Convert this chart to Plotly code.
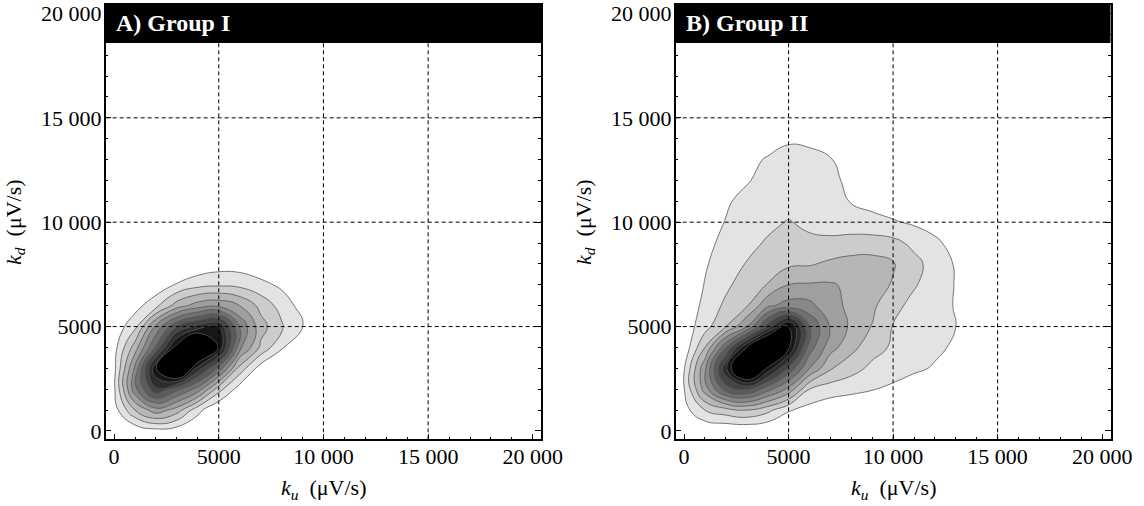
import plotly.graph_objects as go

# ---------------- data ----------------
# Estimated smoothed density (in contour-band units)
grid_x1 = [-1000, 0, 1000, 2000, 3000, 4000, 5000, 6000, 7000, 8000, 9000, 10000]
grid_y1 = [-1000, 0, 1000, 2000, 3000, 4000, 5000, 6000, 7000, 8000, 9000]
density_group1 = [
    [0, 0,   0,   0,    0,    0,    0,    0,   0,   0,    0,    0],
    [0, 0,   0.2, 0.6,  0.4,  0.1,  0,    0,   0,   0,    0,    0],
    [0, 0.5, 3.0, 4.6,  3.5,  1.3,  0,    0,   0,   0,    0,    0],
    [0, 0.8, 5.7, 8.8,  7.3,  5.6,  2.4,  0.5, 0,   0,    0,    0],
    [0, 0.7, 5.2, 10.9, 14.5, 9.6,  6.7,  2.6, 0.5, 0,    0,    0],
    [0, 0.6, 3.5, 7.2,  11.6, 14.5, 10.9, 5.3, 2.8, 1.1,  0.2,  0],
    [0, 0.3, 1.7, 5.2,  8.0,  9.4,  10.0, 5.9, 3.4, 2.15, 1.08, 0],
    [0, 0.1, 0.6, 1.7,  3.5,  4.5,  4.76, 4.0, 2.7, 1.6,  0.6,  0],
    [0, 0,   0,   0.3,  1.1,  1.66, 1.83, 1.72, 1.3, 0.8, 0.2,  0],
    [0, 0,   0,   0,    0,    0.2,  0.5,  0.5, 0.2, 0,    0,    0],
    [0, 0,   0,   0,    0,    0,    0,    0,   0,   0,    0,    0],
]

grid_x2 = [-1000, 0, 1000, 2000, 3000, 4000, 5000, 6000, 7000, 8000,
           9000, 10000, 11000, 12000, 13000, 14000]
grid_y2 = [-1000, 0, 1000, 2000, 3000, 4000, 5000, 6000, 7000, 8000,
           9000, 10000, 11000, 12000, 13000, 14000, 15000]
density_group2 = [
    [0, 0,    0,   0,    0,    0,    0,    0,   0,    0,    0,    0,    0,    0,    0,    0],
    [0, 0,    0.1, 0.1,  0.1,  0,    0,    0,   0,    0,    0,    0,    0,    0,    0,    0],
    [0, 0.6,  2.0, 2.6,  3.0,  2.3,  1.1,  0.6, 0.3,  0.1,  0,    0,    0,    0,    0,    0],
    [0, 0.95, 4.5, 7.5,  8.1,  6.4,  4.7,  2.0, 1.5,  1.3,  1.05, 0.8,  0.4,  0.1,  0,    0],
    [0, 0.9,  4.8, 9.8,  14.5, 10.8, 7.8,  5.0, 3.1,  2.4,  1.75, 1.45, 1.2,  0.9,  0.2,  0],
    [0, 0.3,  3.0, 6.9,  11.0, 14.5, 11.2, 6.5, 4.4,  3.3,  2.4,  1.85, 1.5,  1.2,  0.85, 0],
    [0, 0.4,  1.6, 3.0,  5.0,  8.5,  11.4, 7.0, 4.9,  3.8,  2.95, 1.95, 1.65, 1.35, 1.0,  0.2],
    [0, 0.05, 1.35, 2.2, 2.9,  4.8,  5.4,  5.3, 4.3,  3.8,  3.2,  2.3,  1.7,  1.3,  0.95, 0.2],
    [0, 0.2,  1.05, 1.8, 2.5,  3.05, 4.0,  4.1, 4.1,  3.8,  3.5,  2.9,  2.1,  1.5,  0.95, 0.2],
    [0, 0.2,  0.9, 1.5,  2.05, 2.4,  2.8,  2.9, 3.2,  3.4,  3.4,  3.1,  2.3,  1.6,  0.9,  0.2],
    [0, 0.1,  0.7, 1.3,  1.75, 2.1,  2.45, 2.2, 2.25, 2.4,  2.45, 2.3,  1.75, 1.25, 0.55, 0],
    [0, 0,    0.5, 1.05, 1.5,  1.8,  2.05, 1.8, 1.55, 1.45, 1.3,  1.1,  0.85, 0.5,  0.1,  0],
    [0, 0,    0.2, 0.85, 1.35, 1.6,  1.7,  1.6, 1.35, 0.95, 0.7,  0.45, 0.1,  0,    0,    0],
    [0, 0,    0.1, 0.6,  0.9,  1.4,  1.45, 1.35, 1.15, 0.85, 0.4, 0.1,  0,    0,    0,    0],
    [0, 0,    0,   0.2,  0.7,  1.1,  1.25, 1.2, 1.05, 0.7,  0.2,  0,    0,    0,    0,    0],
    [0, 0,    0,   0,    0,    0.5,  0.9,  0.85, 0.3, 0,    0,    0,    0,    0,    0,    0],
    [0, 0,    0,   0,    0,    0,    0,    0,   0,    0,    0,    0,    0,    0,    0,    0],
]

panel_titles = ["A) Group I", "B) Group II"]
tick_vals = [0, 5000, 10000, 15000, 20000]
tick_text = ["0", "5000", "10 000", "15 000", "20 000"]
grid_vals = [5000, 10000, 15000]

# ---------------- style ----------------
FONT = "Liberation Serif"
W, H = 1144, 506
n_levels = 11
grays = [0.89 * (n_levels - k) / (n_levels - 1) for k in range(1, n_levels + 1)]
colorscale = [[0.0, "rgb(255,255,255)"]]
for k, g in enumerate(grays, start=1):
    v = int(round(g * 255))
    colorscale.append([k / n_levels, f"rgb({v},{v},{v})"])

x_domains = [[105.7 / W, 541.2 / W], [675.7 / W, 1110.5 / W]]
y_domain = [(H - 439.3) / H, (H - 5.1) / H]
rng = [-400, 20400]

fig = go.Figure()
panels = [(grid_x1, grid_y1, density_group1), (grid_x2, grid_y2, density_group2)]
for i, (gx, gy, dz) in enumerate(panels):
    sfx = "" if i == 0 else str(i + 1)
    fig.add_trace(go.Contour(
        x=gx, y=gy, z=dz,
        autocontour=False,
        contours=dict(start=1, end=n_levels, size=1, coloring="fill"),
        colorscale=colorscale, showscale=False,
        line=dict(color="#555555", width=0.8, smoothing=1.3),
        hoverinfo="skip",
        xaxis="x" + sfx, yaxis="y" + sfx,
    ))

axis_common = dict(
    range=rng, showgrid=False, zeroline=False, automargin=False,
    showline=True, linecolor="black", linewidth=1.5, mirror="ticks",
    ticks="inside", ticklen=6, tickwidth=1, tickcolor="black",
    tickvals=tick_vals, ticktext=tick_text,
    tickfont=dict(family=FONT, size=22, color="black"),
    minor=dict(dtick=1000, ticklen=3, tickwidth=1, tickcolor="black", ticks="inside"),
)

layout = dict(
    width=W, height=H, margin=dict(l=0, r=0, t=0, b=0, autoexpand=False),
    paper_bgcolor="white", plot_bgcolor="white", showlegend=False,
    font=dict(family=FONT, color="black"),
)
for i in range(2):
    sfx = "" if i == 0 else str(i + 1)
    layout["xaxis" + sfx] = dict(axis_common, domain=x_domains[i], anchor="y" + sfx,
                                 ticklabelstandoff=-3)
    layout["yaxis" + sfx] = dict(axis_common, domain=y_domain, anchor="x" + sfx,
                                 ticklabelstandoff=-2)
fig.update_layout(**layout)

shapes = []
annotations = []
for i in range(2):
    sfx = "" if i == 0 else str(i + 1)
    xr, yr = "x" + sfx, "y" + sfx
    for g in grid_vals:
        shapes.append(dict(type="line", xref=xr, yref=yr, x0=g, x1=g, y0=rng[0], y1=rng[1],
                           line=dict(color="black", width=1, dash="4px,3px"), layer="above"))
        shapes.append(dict(type="line", xref=xr, yref=yr, x0=rng[0], x1=rng[1], y0=g, y1=g,
                           line=dict(color="black", width=1, dash="4px,3px"), layer="above"))
    # black title bar
    shapes.append(dict(type="rect", xref="paper", yref="paper",
                       x0=x_domains[i][0], x1=x_domains[i][1],
                       y0=(H - 43) / H, y1=(H - 3) / H,
                       fillcolor="black", line=dict(width=0), layer="above"))
    annotations.append(dict(text="<b>" + panel_titles[i] + "</b>", xref="paper", yref="paper",
                            x=x_domains[i][0] + 8 / W, y=(H - 23) / H,
                            xanchor="left", yanchor="middle", showarrow=False,
                            font=dict(family=FONT, size=24, color="white")))
    # axis titles
    xc = (x_domains[i][0] + x_domains[i][1]) / 2
    annotations.append(dict(text="<i>k<sub>u</sub></i>  (μV/s)", xref="paper", yref="paper",
                            x=xc, y=(H - 489) / H, xanchor="center", yanchor="middle",
                            showarrow=False, font=dict(family=FONT, size=22, color="black")))
    annotations.append(dict(text="<i>k<sub>d</sub></i>  (μV/s)", xref="paper", yref="paper",
                            x=x_domains[i][0] - 91 / W, y=(y_domain[0] + y_domain[1]) / 2,
                            xanchor="center", yanchor="middle", textangle=-90,
                            showarrow=False, font=dict(family=FONT, size=22, color="black")))
fig.update_layout(shapes=shapes, annotations=annotations)

fig.write_html("out.html", config={"displayModeBar": False},
               post_script="document.body.style.margin='0';")
